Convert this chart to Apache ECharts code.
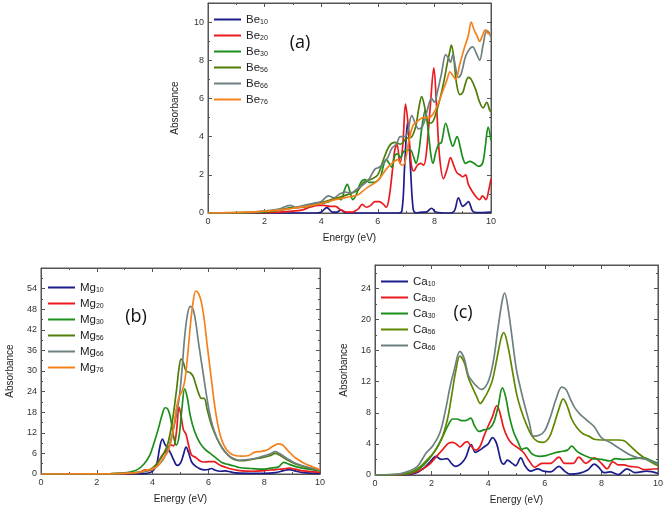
<!DOCTYPE html>
<html><head><meta charset="utf-8">
<script src="https://cdn.jsdelivr.net/npm/echarts/dist/echarts.min.js"></script>
<style>html,body{margin:0;padding:0;background:#fff}#c{width:666px;height:510px}</style>
</head><body><div id="c"></div>
<script>
// ---------- Panel (a): Be clusters ----------
const be10 = [[0,0],[3.8,0],[4.0,0.05],[4.2,0.28],[4.4,0.05],[4.55,0.05],[4.7,0.16],[4.85,0.02],[5,0],[6.7,0],[6.85,0.1],[6.95,2.5],[7.05,4.75],[7.15,2.5],[7.25,0.2],[7.35,0],[7.55,0.05],[7.7,0.05],[7.9,0.25],[8.05,0.05],[8.5,0],[8.7,0.1],[8.85,0.8],[9.0,0.35],[9.1,0.45],[9.2,0.6],[9.35,0.1],[9.5,0.02],[10,0.05]];
const be20 = [[0,0],[2,0.02],[2.5,0.05],[3,0.1],[3.3,0.15],[3.6,0.3],[3.9,0.4],[4.1,0.4],[4.3,0.35],[4.5,0.35],[4.7,0.15],[4.9,0.05],[5.1,0.05],[5.3,0.2],[5.45,0.45],[5.6,0.3],[5.75,0.4],[5.9,0.6],[6.05,0.6],[6.2,0.45],[6.3,0.3],[6.4,0.8],[6.5,2.0],[6.6,3.3],[6.68,3.6],[6.78,2.6],[6.88,3.5],[6.98,5.7],[7.08,4.5],[7.18,2.6],[7.27,2.2],[7.4,2.5],[7.52,2.6],[7.62,2.5],[7.72,3.2],[7.85,5.5],[7.98,7.6],[8.08,5.5],[8.18,3.0],[8.32,1.8],[8.45,2.3],[8.57,2.9],[8.68,2.5],[8.8,2.1],[8.9,2.0],[9.0,1.9],[9.1,2.0],[9.2,1.5],[9.35,1.1],[9.5,0.8],[9.6,0.7],[9.7,0.9],[9.82,0.7],[9.92,1.2],[10,1.8]];
const be30 = [[0,0],[1.5,0.02],[2,0.05],[2.5,0.15],[2.8,0.25],[3,0.3],[3.3,0.3],[3.6,0.4],[4,0.5],[4.3,0.6],[4.5,0.8],[4.7,0.7],[4.82,1.2],[4.92,1.5],[5.02,1.1],[5.12,0.7],[5.25,1.0],[5.4,1.6],[5.55,1.75],[5.7,1.6],[5.85,1.6],[6.0,1.7],[6.1,1.9],[6.22,2.6],[6.3,2.8],[6.4,2.6],[6.5,2.4],[6.6,3.0],[6.7,3.1],[6.8,2.9],[6.9,3.2],[7.0,3.3],[7.15,3.3],[7.25,3.0],[7.35,2.6],[7.45,3.2],[7.55,4.4],[7.68,5.4],[7.78,4.3],[7.88,3.0],[7.95,2.6],[8.05,3.2],[8.15,3.6],[8.25,3.7],[8.4,4.7],[8.55,3.9],[8.65,3.5],[8.8,4.0],[8.92,3.4],[9.0,2.9],[9.1,2.6],[9.25,2.7],[9.4,2.6],[9.55,2.45],[9.7,2.6],[9.8,3.5],[9.9,4.5],[10,3.8]];
const be56 = [[0,0],[1.5,0.03],[2,0.08],[2.5,0.15],[3,0.25],[3.5,0.35],[4,0.55],[4.5,0.75],[5,1.0],[5.3,1.2],[5.5,1.6],[5.8,1.8],[6.0,2.0],[6.2,2.8],[6.4,3.5],[6.6,3.7],[6.8,3.6],[7.0,3.9],[7.2,4.0],[7.35,4.6],[7.45,5.5],[7.55,6.1],[7.65,5.6],[7.75,4.8],[7.85,4.7],[7.95,4.8],[8.05,5.2],[8.2,6.0],[8.35,7.0],[8.45,7.8],[8.55,8.5],[8.6,8.8],[8.68,8.2],[8.78,6.8],[8.9,6.2],[9.0,6.3],[9.1,6.8],[9.2,7.1],[9.3,7.0],[9.45,6.5],[9.6,5.8],[9.72,5.5],[9.85,5.8],[9.95,5.4],[10,5.3]];
const be66 = [[0,0],[1.5,0.03],[2,0.1],[2.5,0.2],[2.9,0.4],[3.1,0.3],[3.4,0.4],[3.7,0.5],[4.0,0.6],[4.25,0.9],[4.45,0.8],[4.65,1.0],[4.85,1.1],[5.05,1.05],[5.3,1.3],[5.5,1.5],[5.7,1.8],[5.9,2.3],[6.05,2.4],[6.2,2.6],[6.35,2.9],[6.5,3.4],[6.65,3.6],[6.8,4.0],[6.95,4.0],[7.05,4.2],[7.2,5.1],[7.35,4.6],[7.45,4.4],[7.6,4.6],[7.75,5.4],[7.9,6.0],[8.0,5.8],[8.1,6.3],[8.25,7.3],[8.4,8.3],[8.5,8.1],[8.57,7.9],[8.65,8.3],[8.75,7.6],[8.85,7.1],[8.95,7.3],[9.1,8.2],[9.25,8.6],[9.35,8.7],[9.5,8.3],[9.6,8.0],[9.72,8.8],[9.85,9.55],[9.95,9.4],[10,9.2]];
const be76 = [[0,0],[1.5,0.05],[2,0.1],[2.5,0.15],[3,0.25],[3.5,0.35],[4,0.5],[4.5,0.7],[5,0.85],[5.3,0.95],[5.6,1.3],[6.0,1.7],[6.3,2.3],[6.5,2.6],[6.7,2.8],[6.85,2.5],[6.95,2.6],[7.1,3.8],[7.25,4.6],[7.4,4.8],[7.6,5.0],[7.8,5.0],[8.0,5.3],[8.15,5.8],[8.3,6.4],[8.45,7.0],[8.55,7.4],[8.65,7.2],[8.75,7.0],[8.9,7.8],[9.05,8.6],[9.2,9.3],[9.3,10.0],[9.4,9.6],[9.5,9.3],[9.6,9.0],[9.7,9.3],[9.8,9.6],[9.9,9.4],[10,9.4]];

// ---------- Panel (b): Mg clusters ----------
const mg10 = [[0,0],[3.5,0.05],[3.8,0.2],[4.0,0.8],[4.15,3],[4.25,7.5],[4.35,10.2],[4.45,8.5],[4.55,7.5],[4.65,6],[4.75,4.2],[4.88,2.5],[5.0,3.2],[5.1,5.5],[5.2,7.8],[5.3,6],[5.4,3.5],[5.55,2.2],[5.7,1.5],[5.85,1.2],[6.0,1.3],[6.1,1.6],[6.25,1.1],[6.4,0.8],[6.6,0.9],[6.8,0.6],[7.0,0.3],[7.5,0.2],[8.0,0.2],[8.4,0.4],[8.7,1.0],[8.9,1.3],[9.1,0.9],[9.4,0.4],[10,0.2]];
const mg20 = [[0,0],[3,0.1],[3.5,0.4],[3.75,1.2],[3.9,1.0],[4.05,1.5],[4.2,3.5],[4.35,5.5],[4.5,6.8],[4.65,8.5],[4.75,8.2],[4.85,12],[4.95,19.5],[5.03,16.5],[5.1,13],[5.2,11.5],[5.3,8],[5.4,5.5],[5.55,4.8],[5.7,3.8],[5.85,3.5],[6.0,3.6],[6.2,3.6],[6.4,2.6],[6.6,2.0],[6.9,1.3],[7.2,0.9],[7.6,0.8],[8.0,1.0],[8.4,1.3],[8.7,1.5],[8.9,1.7],[9.1,1.4],[9.4,0.9],[10,0.5]];
const mg30 = [[0,0],[2.5,0.1],[3,0.3],[3.3,0.8],[3.5,1.5],[3.7,3],[3.9,5.5],[4.05,9],[4.2,13],[4.35,17.5],[4.45,19.3],[4.55,18.8],[4.65,16],[4.75,11],[4.85,8.4],[4.95,11],[5.05,19],[5.15,24.8],[5.25,22],[5.35,17],[5.5,12.5],[5.7,9],[5.9,7],[6.1,5.8],[6.3,4.5],[6.5,3.3],[6.7,2.8],[6.9,2.4],[7.1,1.9],[7.5,1.6],[8.0,1.4],[8.3,1.8],[8.5,2.0],[8.7,3.4],[8.9,2.8],[9.2,2.0],[9.6,1.4],[10,1.0]];
const mg56 = [[0,0],[2.5,0.05],[3,0.2],[3.5,0.5],[3.8,0.9],[4.0,1.8],[4.2,3.5],[4.4,6],[4.55,9],[4.7,15],[4.85,24],[4.95,31],[5.02,33.5],[5.1,32.5],[5.2,30],[5.35,29.5],[5.45,28.5],[5.55,26],[5.65,23.5],[5.75,22],[5.85,22],[5.95,19],[6.1,14.5],[6.3,10.5],[6.5,7.5],[6.7,5.5],[6.9,4.3],[7.1,3.9],[7.3,3.9],[7.5,4.2],[7.8,4.6],[8.0,4.9],[8.2,5.3],[8.4,6.0],[8.55,5.5],[8.8,4.2],[9.1,3.0],[9.5,2.0],[10,1.0]];
const mg66 = [[0,0],[2.5,0.05],[3,0.2],[3.5,0.5],[3.8,1],[4.0,1.3],[4.2,2.5],[4.4,4.5],[4.6,8.5],[4.8,15],[4.95,22],[5.05,30],[5.15,40],[5.25,46.5],[5.35,48.8],[5.45,48],[5.55,44],[5.65,38],[5.8,30],[5.95,22],[6.1,15.5],[6.3,10.5],[6.5,7.5],[6.7,5.6],[6.9,4.5],[7.1,4.0],[7.3,4.1],[7.5,4.3],[7.8,4.8],[8.0,5.3],[8.2,5.8],[8.4,6.5],[8.55,6.0],[8.8,4.6],[9.1,3.2],[9.5,2.1],[10,1.1]];
const mg76 = [[0,0],[2.5,0.05],[3,0.2],[3.5,0.5],[3.8,1.2],[4.0,1.5],[4.2,2.5],[4.4,4.8],[4.55,6.5],[4.7,11],[4.85,19],[4.95,22.5],[5.05,24],[5.15,27],[5.25,34],[5.35,43],[5.45,50],[5.55,53.3],[5.65,52.5],[5.75,50],[5.85,45],[5.95,38],[6.1,28],[6.25,18.5],[6.4,12],[6.55,8.5],[6.75,6.2],[6.95,5.4],[7.2,5.2],[7.45,5.4],[7.65,6.3],[7.9,6.6],[8.1,7.0],[8.3,8.0],[8.5,8.8],[8.65,8.5],[8.85,6.8],[9.1,4.8],[9.4,3.3],[9.7,2.2],[10,1.3]];

// ---------- Panel (c): Ca clusters ----------
const ca10 = [[0,0],[1.0,0.05],[1.4,0.2],[1.7,0.8],[1.95,1.7],[2.15,2.4],[2.35,2.0],[2.55,2.1],[2.7,1.5],[2.85,1.1],[3.05,1.5],[3.2,2.2],[3.4,3.9],[3.55,2.9],[3.7,3.2],[3.85,3.6],[4.0,4.0],[4.15,4.8],[4.3,4.0],[4.45,1.8],[4.55,1.4],[4.68,1.9],[4.85,1.5],[4.97,1.2],[5.15,2.2],[5.3,1.2],[5.5,0.5],[5.75,0.8],[5.95,0.5],[6.2,0.4],[6.5,1.1],[6.7,0.5],[6.9,0.1],[7.2,0.2],[7.5,0.6],[7.75,1.4],[7.9,1.0],[8.1,0.3],[8.3,0.4],[8.6,0.05],[8.9,0.8],[9.2,0.3],[9.6,0.5],[10,0.2]];
const ca20 = [[0,0],[1.0,0.05],[1.3,0.2],[1.6,0.6],[1.9,1.3],[2.15,2.3],[2.4,3.3],[2.6,4.1],[2.75,4.2],[2.9,3.9],[3.0,3.6],[3.15,4.1],[3.25,4.3],[3.4,3.7],[3.55,3.2],[3.7,3.6],[3.85,5.0],[4.0,6.3],[4.15,7.5],[4.3,8.9],[4.4,8.2],[4.55,6.0],[4.7,4.7],[4.85,4.0],[5.05,3.5],[5.25,2.9],[5.45,1.8],[5.65,1.0],[5.9,1.5],[6.2,1.5],[6.5,2.3],[6.7,1.5],[7.0,1.5],[7.2,2.3],[7.45,1.5],[7.75,2.2],[8.0,1.5],[8.2,0.8],[8.4,1.7],[8.6,1.3],[8.8,1.3],[9.0,1.1],[9.3,1.0],[9.5,0.7],[10,0.8]];
const ca30 = [[0,0],[1.0,0.1],[1.3,0.3],[1.6,0.9],[1.9,2.0],[2.15,3.3],[2.4,5.0],[2.6,6.5],[2.75,7.2],[2.9,7.2],[3.05,7.0],[3.2,7.0],[3.38,7.3],[3.52,6.3],[3.68,5.6],[3.85,5.8],[4.05,6.0],[4.2,6.8],[4.35,8.8],[4.5,11.2],[4.62,10.0],[4.75,7.5],[4.9,5.5],[5.05,4.3],[5.2,3.3],[5.35,3.5],[5.55,2.7],[5.8,2.4],[6.05,2.5],[6.3,2.8],[6.55,3.0],[6.8,3.2],[6.95,3.7],[7.15,3.0],[7.4,2.5],[7.7,2.1],[8.0,2.0],[8.3,1.8],[8.5,2.1],[8.8,2.0],[9.1,2.1],[9.5,2.2],[9.8,1.8],[10,1.5]];
const ca56 = [[0,0],[0.8,0.05],[1.2,0.3],[1.5,0.8],[1.8,1.8],[2.1,3.0],[2.35,4.6],[2.55,7.0],[2.7,10],[2.85,13.3],[3.0,15.3],[3.15,14.5],[3.3,12.5],[3.45,11.2],[3.6,10.0],[3.72,9.2],[3.85,9.8],[4.0,10.8],[4.15,12.2],[4.3,14.8],[4.45,17.5],[4.55,18.3],[4.7,16.5],[4.85,13.5],[5.0,10.5],[5.15,8.5],[5.35,6.5],[5.55,5.0],[5.75,4.3],[5.95,4.2],[6.15,4.8],[6.3,6.2],[6.5,8.5],[6.65,9.8],[6.8,8.8],[6.95,7.2],[7.15,6.0],[7.35,5.3],[7.55,5.0],[7.75,4.6],[8.0,4.5],[8.3,4.5],[8.6,4.5],[8.8,4.4],[9.0,3.8],[9.3,2.8],[9.6,2.0],[10,1.2]];
const ca66 = [[0,0],[0.8,0.1],[1.2,0.5],[1.5,1.1],[1.8,2.8],[2.05,3.8],[2.3,5.5],[2.5,8.5],[2.65,11.3],[2.8,13.5],[3.0,15.9],[3.15,15.0],[3.3,12.8],[3.45,12.0],[3.6,11.4],[3.75,11.0],[3.9,11.3],[4.05,12.5],[4.2,15],[4.35,19],[4.5,22.5],[4.58,23.4],[4.7,21.5],[4.85,17.5],[5.0,13.5],[5.15,11],[5.3,8.8],[5.45,6.8],[5.6,5.0],[5.8,5.1],[6.0,5.7],[6.2,7.5],[6.4,9.8],[6.6,11.3],[6.75,11.0],[6.9,9.8],[7.05,8.7],[7.25,7.8],[7.5,7.0],[7.75,6.2],[8.0,4.8],[8.3,4.2],[8.6,3.5],[9.0,2.6],[9.3,2.2],[9.6,2.0],[10,1.4]];

const beNames = ['Be10','Be20','Be30','Be56','Be66','Be76'];
const mgNames = ['Mg10','Mg20','Mg30','Mg56','Mg66','Mg76'];
const caNames = ['Ca10','Ca20','Ca30','Ca56','Ca66'];
const panelLabels = ['(a)','(b)','(c)'];
const yMax = [11, 60, 27];
const yInterval = [2, 6, 4];

const colors = {
  '10':'#1c1c8c','20':'#ea1a1e','30':'#1c8e1c','56':'#4f7d08','66':'#6e8082','76':'#f5811c'
};
const caColors = {'56':'#5f8700'};

const FONT = '"Liberation Sans", Arial, sans-serif';
const grids = [
  {left:208, top:3, width:283, height:210},
  {left:41, top:268, width:279, height:206},
  {left:375, top:265, width:284, height:210}
];
const legendPos = [
  {left:214, top:13},
  {left:48, top:281},
  {left:381, top:275}
];
const titlePos = [[300,43],[136,317],[463,313]];

const xAxes = [], yAxes = [], series = [], legends = [], graphics = [];
const panels = [
  {names: beNames, data: [be10,be20,be30,be56,be66,be76]},
  {names: mgNames, data: [mg10,mg20,mg30,mg56,mg66,mg76]},
  {names: caNames, data: [ca10,ca20,ca30,ca56,ca66]}
];
const axisCol = '#555';
function tickCommon() {
  return {
    axisLine:{show:true, onZero:false, lineStyle:{color:axisCol, width:1}},
    axisTick:{show:true, inside:true, length:4, lineStyle:{color:axisCol}},
    minorTick:{show:true, splitNumber:2, length:2, lineStyle:{color:axisCol}},
    splitLine:{show:false}
  };
}
panels.forEach((p, i) => {
  grids[i].show = true; grids[i].borderColor = axisCol; grids[i].borderWidth = 1;
  xAxes.push(Object.assign({type:'value', gridIndex:i, min:0, max:10, interval:2, position:'bottom',
    axisLabel:{fontSize:9, color:'#333', margin:4, fontFamily:FONT},
    name:'Energy (eV)', nameLocation:'middle', nameGap:20,
    nameTextStyle:{fontSize:10, color:'#222', fontFamily:FONT}}, tickCommon()));
  xAxes.push(Object.assign({type:'value', gridIndex:i, min:0, max:10, interval:2, position:'top',
    axisLabel:{show:false}}, tickCommon()));
  yAxes.push(Object.assign({type:'value', gridIndex:i, min:0, max:yMax[i], interval:yInterval[i], position:'left',
    axisLabel:{fontSize:9, color:'#333', margin:4, fontFamily:FONT, showMaxLabel:false},
    name:'Absorbance', nameLocation:'middle', nameGap: i===0?28:26, nameRotate:90,
    nameTextStyle:{fontSize:10, color:'#222', fontFamily:FONT}}, tickCommon()));
  yAxes.push(Object.assign({type:'value', gridIndex:i, min:0, max:yMax[i], interval:yInterval[i], position:'right',
    axisLabel:{show:false}}, tickCommon()));
  p.names.forEach((n, k) => {
    const key = n.slice(2);
    const col = (i===2 && caColors[key]) ? caColors[key] : colors[key];
    series.push({type:'line', name:n, xAxisIndex:2*i, yAxisIndex:2*i, data:p.data[k],
      symbol:'none', smooth:0.35, color:col, lineStyle:{width:1.7, color:col}, z: 2+k});
  });
  legends.push({data:p.names, orient:'vertical', left:legendPos[i].left, top:legendPos[i].top,
    icon:'rect', itemWidth:27, itemHeight:2, itemGap:3, padding:0,
    formatter: name => '{b|' + name.slice(0,2) + '}{s|' + name.slice(2) + '}',
    textStyle:{fontFamily:FONT, color:'#222', rich:{
      b:{fontSize:11.5, lineHeight:14, fontFamily:FONT, color:'#222'},
      s:{fontSize:7, lineHeight:14, fontFamily:FONT, color:'#222', padding:[6,0,0,0]}
    }}});
  graphics.push({type:'text', x:titlePos[i][0], y:titlePos[i][1],
    style:{text:panelLabels[i], fontSize:18, fontFamily:'"Open Sans", sans-serif', fill:'#111',
      textAlign:'center', textVerticalAlign:'middle'}});
});

const chart = echarts.init(document.getElementById('c'), null, {renderer:'canvas'});
chart.setOption({
  animation:false,
  grid: grids, xAxis: xAxes, yAxis: yAxes, series: series,
  legend: legends, graphic: graphics
});
</script></body></html>
